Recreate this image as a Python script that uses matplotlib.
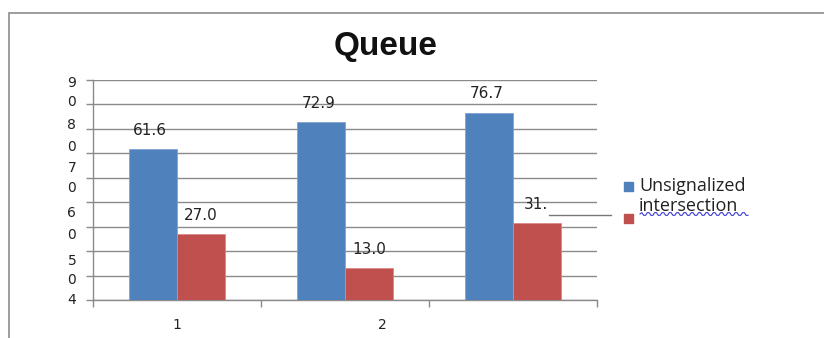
import matplotlib
matplotlib.use("Agg")
import matplotlib.pyplot as plt
import numpy as np

# ---- data ----
categories = [0, 1, 2]
series_name = "Unsignalized\nintersection"
blue_values = [61.6, 72.9, 76.7]
red_values = [27.0, 13.0, 31.6]
blue_labels = ["61.6", "72.9", "76.7"]
red_labels = ["27.0", "13.0", "31."]
y_grid = [0, 10, 20, 30, 40, 50, 60, 70, 80, 90]
y_label_pos = [89.3, 81.5, 72.3, 63.4, 54.5, 46.3, 36.1, 27.3, 16.6, 8.9, 0.5]
y_label_txt = ["9", "0", "8", "0", "7", "0", "6", "0", "5", "0", "4"]
x_label_pos = [0.0, 1.22]
x_label_txt = ["1", "2"]
title = "Queue"

W, H = 824, 338
fig = plt.figure(figsize=(W / 100, H / 100), dpi=100)

def fx(px):
    return px / W

def fy(py):
    return 1 - py / H

# outer chart frame
frame = plt.Rectangle((fx(9), fy(345)), fx(830) - fx(9), fy(13) - fy(345),
                      transform=fig.transFigure, fill=False,
                      edgecolor="#8c8c8c", linewidth=1.2)
fig.patches.append(frame)

ax = fig.add_axes([fx(93), fy(300), fx(597) - fx(93), fy(80) - fy(300)])

blue = "#4F81BD"
red = "#C0504D"
bw = 0.285
x = np.array(categories, dtype=float)
ax.bar(x - bw / 2, blue_values, width=bw, color=blue, edgecolor="#7fa3d3",
       linewidth=0.6, zorder=3)
ax.bar(x + bw / 2, red_values, width=bw, color=red, edgecolor="#d98a88",
       linewidth=0.6, zorder=3)

ax.set_xlim(-0.5, 2.5)
ax.set_ylim(0, 90)

# gridlines
ax.set_yticks(y_grid)
ax.yaxis.grid(True, color="#8a8a8a", linewidth=1.0, zorder=0)
ax.tick_params(axis="y", which="major", length=5, color="#8a8a8a",
               labelleft=False, width=1.0)
ax.set_yticks(y_label_pos, labels=y_label_txt, minor=True)
ax.tick_params(axis="y", which="minor", length=0, pad=12,
               labelsize=10, labelcolor="#222222")

# x axis: boundary ticks + labels
ax.set_xticks([-0.5, 0.5, 1.5, 2.5])
ax.tick_params(axis="x", which="major", length=5, color="#8a8a8a",
               direction="out", labelbottom=False, width=1.0)
ax.set_xticks(x_label_pos, labels=x_label_txt, minor=True)
ax.tick_params(axis="x", which="minor", length=0, pad=13,
               labelsize=10, labelcolor="#222222")

for sp in ["top", "right"]:
    ax.spines[sp].set_visible(False)
for sp in ["left", "bottom"]:
    ax.spines[sp].set_color("#8a8a8a")
    ax.spines[sp].set_linewidth(1.0)

# data labels
for xi, v, t in zip(x, blue_values, blue_labels):
    ax.annotate(t, (xi - bw / 2, v), xytext=(-2, 8), textcoords="offset points",
                ha="center", va="bottom", fontsize=11, color="#222222",
                family="DejaVu Sans")
for xi, v, t in zip(x, red_values, red_labels):
    dx = 0 if t != "31." else -1
    ax.annotate(t, (xi + bw / 2, v), xytext=(dx, 8), textcoords="offset points",
                ha="center", va="bottom", fontsize=11, color="#222222",
                family="DejaVu Sans")

# stray leader line from truncated label
fig.add_artist(plt.Line2D([fx(549), fx(611)], [fy(215), fy(215)],
                          color="#777777", linewidth=1.0))

# title
fig.text(fx(386), fy(47), title, ha="center", va="center", fontsize=24,
         fontweight="bold", family="Liberation Sans", color="#111111")

# legend (manual, emulating squashed Excel legend)
fig.patches.append(plt.Rectangle((fx(624), fy(191)), fx(9), fy(0) - fy(9),
                                 transform=fig.transFigure, color=blue))
fig.patches.append(plt.Rectangle((fx(624), fy(223)), fx(9), fy(0) - fy(9),
                                 transform=fig.transFigure, color=red))
fig.text(fx(639), fy(196), series_name, ha="left", va="center", fontsize=13,
         family="Open Sans", color="#222222", linespacing=1.15)
# spell-check wavy underline
wx = np.linspace(fx(640), fx(748), 60)
wy = fy(214) + 0.004 * np.sign(np.sin(np.linspace(0, 60 * np.pi / 2, 60)))
fig.add_artist(plt.Line2D(wx, wy, color="#3b3bd6", linewidth=0.8))

fig.savefig("out.png", dpi=100)
